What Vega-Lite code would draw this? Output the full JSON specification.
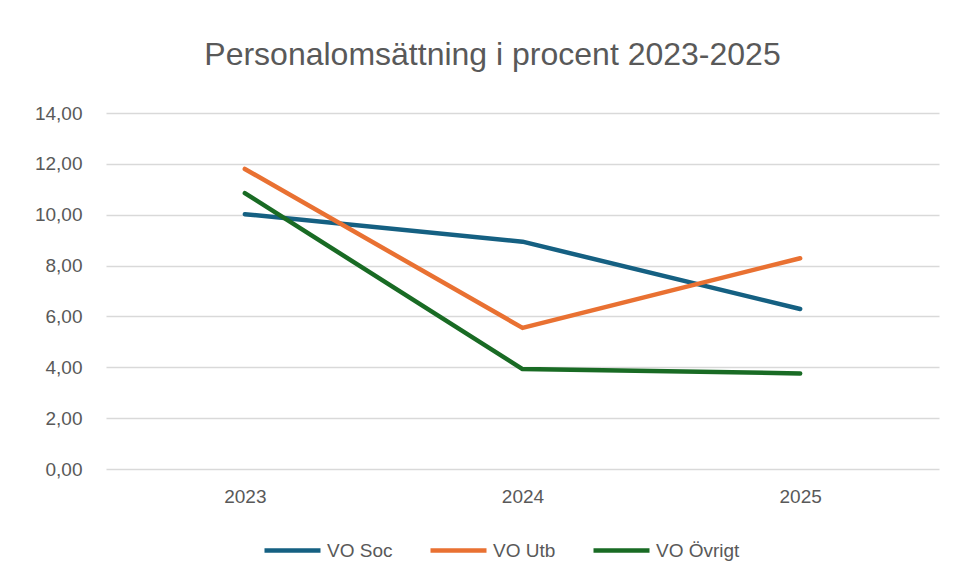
{
  "$schema": "https://vega.github.io/schema/vega-lite/v6.json",
  "autosize": {"type": "none"},
  "width": 833,
  "height": 356,
  "padding": {"left": 106, "top": 113, "right": 21, "bottom": 113},
  "background": "white",
  "title": {
    "text": "Personalomsättning i procent 2023-2025",
    "font": "Liberation Sans",
    "fontSize": 32,
    "fontWeight": "normal",
    "color": "#595959",
    "anchor": "middle",
    "dx": -30,
    "offset": 32
  },
  "data": {
    "values": [
      {"year": "2023", "series": "VO Soc", "value": 10.02},
      {"year": "2024", "series": "VO Soc", "value": 8.94},
      {"year": "2025", "series": "VO Soc", "value": 6.29},
      {"year": "2023", "series": "VO Utb", "value": 11.80},
      {"year": "2024", "series": "VO Utb", "value": 5.55},
      {"year": "2025", "series": "VO Utb", "value": 8.29},
      {"year": "2023", "series": "VO Övrigt", "value": 10.85},
      {"year": "2024", "series": "VO Övrigt", "value": 3.93},
      {"year": "2025", "series": "VO Övrigt", "value": 3.76}
    ]
  },
  "mark": {"type": "line", "strokeWidth": 4.5, "strokeCap": "round", "strokeJoin": "round"},
  "encoding": {
    "x": {
      "field": "year", "type": "ordinal", "title": null,
      "scale": {"type": "point", "padding": 0.5},
      "axis": {"labelAngle": 0, "ticks": false, "domain": false, "grid": false, "labelPadding": 18, "labelFontSize": 19, "labelColor": "#595959", "labelFont": "Liberation Sans"}
    },
    "y": {
      "field": "value", "type": "quantitative", "title": null,
      "scale": {"domain": [0, 14], "nice": false},
      "axis": {"values": [0, 2, 4, 6, 8, 10, 12, 14], "labelExpr": "replace(format(datum.value, '.2f'), '.', ',')", "ticks": false, "domain": false, "grid": true, "gridColor": "#D9D9D9", "gridWidth": 1.5, "labelPadding": 24, "labelFontSize": 19, "labelColor": "#595959", "labelFont": "Liberation Sans"}
    },
    "color": {
      "field": "series", "type": "nominal", "title": null,
      "scale": {"domain": ["VO Soc", "VO Utb", "VO Övrigt"], "range": ["#156082", "#E97132", "#196B24"]},
      "legend": {"orient": "none", "legendX": 156, "legendY": 407, "direction": "horizontal", "gridAlign": "none", "symbolType": "stroke", "symbolSize": 3136, "symbolStrokeWidth": 4.5, "labelFontSize": 19, "labelColor": "#595959", "labelFont": "Liberation Sans", "labelOffset": 4, "columnPadding": 28}
    }
  },
  "config": {"view": {"stroke": null}}
}
